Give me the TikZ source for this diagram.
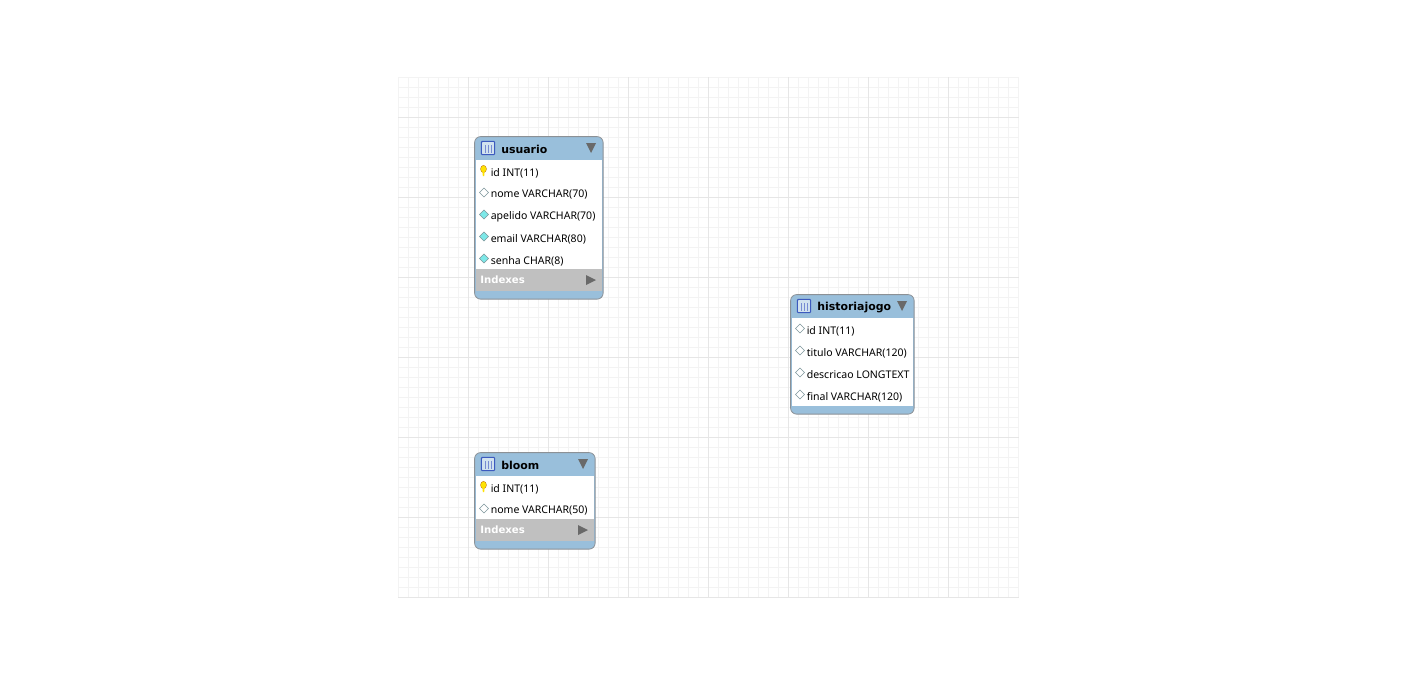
\documentclass[tikz,border=0pt]{standalone}
\usepackage{fontspec}
\setmainfont{Noto Sans}
\newfontfamily\headfont{DejaVu Sans}[BoldFont={DejaVu Sans Bold}]
\usetikzlibrary{positioning,shapes.geometric}
\definecolor{headercol}{RGB}{153,191,219}
\definecolor{framecol}{RGB}{140,145,150}
\definecolor{indexcol}{RGB}{192,192,192}
\definecolor{arrowcol}{RGB}{105,105,105}
\definecolor{gridcol}{RGB}{243,243,243}
\definecolor{majorcol}{RGB}{230,230,230}
\definecolor{fkcol}{RGB}{125,232,232}
\definecolor{iconcol}{RGB}{60,90,190}
\definecolor{columncol}{RGB}{125,150,155}
\tikzset{
  frame/.style={draw=framecol,fill=headercol,rounded corners=4.5pt,line width=0.6pt,
    anchor=north west,inner sep=0pt},
  body/.style={fill=white,anchor=north west,inner sep=0pt},
  band/.style={fill=indexcol,anchor=north west,inner sep=0pt},
  title/.style={anchor=west,inner sep=0pt,font=\headfont\fontsize{8.2}{11}\selectfont\bfseries},
  rowtext/.style={anchor=west,inner sep=0pt,font=\fontsize{7.9}{10}\selectfont},
  bandtext/.style={anchor=west,inner sep=0pt,text=white,font=\headfont\fontsize{7.6}{10}\selectfont\bfseries},
  column/.style={diamond,draw=columncol,fill=white,line width=0.4pt,minimum size=7pt,inner sep=0pt},
  fkcolumn/.style={column,fill=fkcol},
  tableicon/.style={draw=iconcol,fill=headercol!45,line width=0.8pt,rounded corners=0.8pt,
    minimum width=10pt,minimum height=10pt,inner sep=0pt},
  keyhead/.style={ellipse,fill=yellow!85!orange,draw=orange!70!black,line width=0.2pt,
    minimum width=4.5pt,minimum height=5.5pt,inner sep=0pt},
  iconline/.style={iconcol!70,line width=0.5pt}
}
\begin{document}
\begin{tikzpicture}[x=0.75pt,y=-0.75pt]
  \useasboundingbox (0,0) rectangle (1416,672);
  % grid
  \foreach \x in {398,408,...,1018} \draw[gridcol,line width=0.75pt] (\x,77)--(\x,597);
  \foreach \y in {77,87,...,597} \draw[gridcol,line width=0.75pt] (398,\y)--(1019,\y);
  \foreach \x in {468,548,...,948} \draw[majorcol,line width=0.75pt] (\x,77)--(\x,597);
  \foreach \y in {117,197,...,597} \draw[majorcol,line width=0.75pt] (398,\y)--(1019,\y);

  % usuario
  \node[frame,minimum width=96.4pt,minimum height=121.9pt] (usuario) at (474.2,136.2) {};
  \node[body,minimum width=94.5pt,minimum height=81.75pt] (usuariobody) at (475.5,160) {};
  \node[band,minimum width=94.5pt,minimum height=16.5pt] (usuarioindex) at (475.5,269) {};
  \node[tableicon] (usuarioicon) at (488,148) {};
  \foreach \x in {485,488,491} \draw[iconline] (\x,145)--(\x,153);
  \node[title] (usuariotitle) at (501,149.5) {usuario};
  \fill[arrowcol] (586,143)--(596,143)--(591,153)--cycle;
  \foreach \name/\y/\kind/\txt in {nome/193/column/nome VARCHAR(70),apelido/215/fkcolumn/apelido VARCHAR(70),
    email/237/fkcolumn/email VARCHAR(80),senha/259/fkcolumn/senha CHAR(8)} {
    \node[\kind] (usuario\name) at (484,\y-0.5) {};
    \node[rowtext] (usuario\name text) at (490.5,\y+2) {\txt};
  }
  \node[keyhead] (usuariokey) at (483.5,169) {};
  \fill[yellow!85!orange] (482.4,170)--(484.6,170)--(484.2,176)--(482.8,176)--cycle;
  \node[rowtext] (usuarioid) at (490.5,173) {id INT(11)};
  \node[bandtext] (usuarioindextext) at (480,280) {Indexes};
  \fill[arrowcol] (586,275)--(596,280)--(586,285)--cycle;

  % historiajogo
  \node[frame,minimum width=92.65pt,minimum height=89.65pt] (historiajogo) at (790.2,294.2) {};
  \node[body,minimum width=90.75pt,minimum height=66pt] (historiajogobody) at (791.5,318) {};
  \node[tableicon] (historiajogoicon) at (804,306) {};
  \foreach \x in {801,804,807} \draw[iconline] (\x,303)--(\x,311);
  \node[title] (historiajogotitle) at (817,307.5) {historiajogo};
  \fill[arrowcol] (897,301)--(907,301)--(902,311)--cycle;
  \foreach \name/\y/\txt in {id/329/id INT(11),titulo/351/titulo VARCHAR(120),
    descricao/373/descricao LONGTEXT,final/395/final VARCHAR(120)} {
    \node[column] (historiajogo\name) at (800,\y-0.5) {};
    \node[rowtext] (historiajogo\name text) at (806.5,\y+2) {\txt};
  }

  % bloom
  \node[frame,minimum width=90.4pt,minimum height=72.4pt] (bloom) at (474.2,452.2) {};
  \node[body,minimum width=88.5pt,minimum height=32.25pt] (bloombody) at (475.5,476) {};
  \node[band,minimum width=88.5pt,minimum height=16.5pt] (bloomindex) at (475.5,519) {};
  \node[tableicon] (bloomicon) at (488,464) {};
  \foreach \x in {485,488,491} \draw[iconline] (\x,461)--(\x,469);
  \node[title] (bloomtitle) at (501,465.5) {bloom};
  \fill[arrowcol] (578,459)--(588,459)--(583,469)--cycle;
  \node[keyhead] (bloomkey) at (483.5,485) {};
  \fill[yellow!85!orange] (482.4,486)--(484.6,486)--(484.2,492)--(482.8,492)--cycle;
  \node[rowtext] (bloomid) at (490.5,489) {id INT(11)};
  \node[column] (bloomnome) at (484,508.5) {};
  \node[rowtext] (bloomnometext) at (490.5,511) {nome VARCHAR(50)};
  \node[bandtext] (bloomindextext) at (480,530) {Indexes};
  \fill[arrowcol] (578,525)--(588,530)--(578,535)--cycle;
\end{tikzpicture}
\end{document}
